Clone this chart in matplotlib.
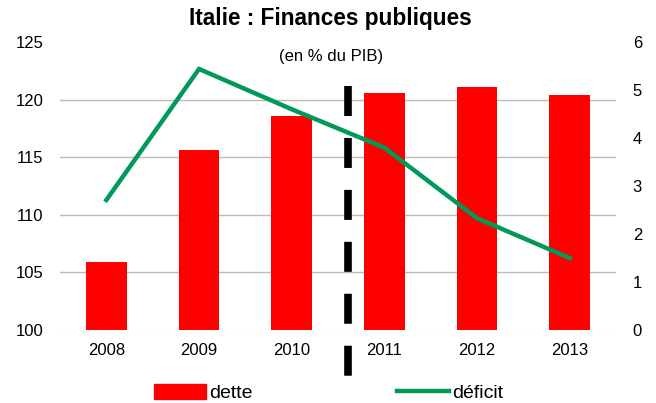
import matplotlib
matplotlib.use("Agg")
import matplotlib.pyplot as plt
from matplotlib.patches import Patch
from matplotlib.lines import Line2D

plt.rcParams['font.family'] = ['Liberation Sans', 'DejaVu Sans']
plt.rcParams['lines.scale_dashes'] = False

years = ['2008', '2009', '2010', '2011', '2012', '2013']
dette = [105.9, 115.6, 118.6, 120.6, 121.1, 120.4]
deficit = [2.71, 5.44, 4.6, 3.8, 2.33, 1.5]

red = '#ff0000'
green = '#00995a'
grid_c = '#c0b8b2'

fig = plt.figure(figsize=(6.56, 4.03), dpi=100)
ax = fig.add_axes([0.0915, 0.181, 0.8476, 0.7146])
ax2 = ax.twinx()

x = list(range(len(years)))
ax.bar(x, [d - 100 for d in dette], bottom=100, width=0.44, color=red, zorder=2)
ax.set_ylim(100, 125)
ax.set_xlim(-0.5, len(years) - 0.5)
ax.set_yticks([100, 105, 110, 115, 120, 125])
ax.set_xticks(x)
ax.set_xticklabels(years)
for g in [105, 110, 115, 120]:
    ax.axhline(g, color=grid_c, lw=1.0, zorder=1)
ax.axhline(100, color='#ece8e4', lw=1.0, zorder=1)

ax2.plot(x, deficit, color=green, lw=3.2, zorder=3, solid_joinstyle='miter')
ax2.set_ylim(0, 6)
ax2.set_yticks([0, 1, 2, 3, 4, 5, 6])

for a in (ax, ax2):
    for s in a.spines.values():
        s.set_visible(False)
    a.tick_params(length=0, labelsize=12, colors='black')
ax.tick_params(axis='y', pad=12)
ax2.tick_params(axis='y', pad=12)
ax.tick_params(axis='x', pad=9)

ax2.set_zorder(ax.get_zorder() + 1)
ax2.patch.set_visible(False)

# vertical dashed separator
sep = Line2D([2.61, 2.61], [121.18, 95.92], color='black', lw=5.5,
             dashes=(21.6, 15.8), transform=ax.transData, clip_on=False, zorder=5)
ax2.add_artist(sep)

fig.text(0.503, 0.953, 'Italie : Finances publiques', ha='center', va='center',
         fontsize=16.3, fontweight='bold')
fig.text(0.504, 0.861, '(en % du PIB)', ha='center', va='center', fontsize=12)

handles = [Patch(color=red), Line2D([0], [0], color=green, lw=3.2)]
leg = fig.legend(handles, ['dette', 'déficit'], loc='center', bbox_to_anchor=(0.501, 0.024),
                 ncol=2, frameon=False, fontsize=14, handlelength=2.67, handleheight=0.77,
                 handletextpad=0.2, columnspacing=7.4, borderpad=0, borderaxespad=0)

fig.savefig('out.png', dpi=100)
